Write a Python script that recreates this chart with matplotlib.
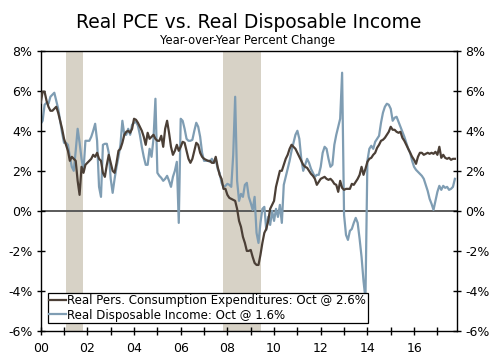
import numpy as np
import matplotlib
matplotlib.use("Agg")
import matplotlib.pyplot as plt

# monthly y/y % change, Jan 2000 - Oct 2017
pce = [
    5.4, 5.95, 5.95, 5.5, 5.2, 5.0, 5.0, 5.1, 5.2, 4.9, 4.5, 4.1,      # 2000
    3.6, 3.3, 3.0, 2.5, 2.7, 2.6, 2.5, 1.5, 0.8, 2.2, 1.9, 2.3,        # 2001
    2.4, 2.5, 2.6, 2.8, 2.7, 2.9, 2.6, 2.5, 1.9, 1.7, 2.3, 2.8,        # 2002
    2.4, 2.0, 1.9, 2.4, 3.0, 3.1, 3.4, 3.8, 3.95, 4.0, 3.9, 4.1,       # 2003
    4.6, 4.55, 4.4, 4.2, 4.0, 3.7, 3.3, 3.9, 3.6, 3.7, 3.8, 3.6,       # 2004
    3.5, 3.5, 3.75, 3.2, 4.1, 4.5, 3.9, 3.2, 2.8, 3.0, 3.3, 3.0,       # 2005
    3.2, 3.45, 3.4, 3.0, 2.6, 2.4, 2.6, 3.0, 3.4, 3.3, 2.9, 2.7,       # 2006
    2.6, 2.55, 2.5, 2.5, 2.4, 2.4, 2.7, 2.2, 1.8, 1.6, 1.1, 1.1,       # 2007
    0.8, 0.65, 0.6, 0.55, 0.5, 0.1, -0.5, -0.8, -1.3, -1.6, -2.0, -2.0,  # 2008
    -1.95, -2.3, -2.6, -2.7, -2.7, -2.2, -1.6, -1.1, -0.9, -0.5, 0.1, 0.3,  # 2009
    0.5, 1.2, 1.6, 2.0, 2.0, 2.3, 2.6, 2.8, 3.1, 3.3, 3.2, 3.1,        # 2010
    2.9, 2.7, 2.5, 2.3, 2.2, 2.15, 2.0, 1.85, 1.75, 1.6, 1.3, 1.45,    # 2011
    1.6, 1.65, 1.7, 1.6, 1.55, 1.6, 1.5, 1.35, 1.3, 0.95, 1.5, 1.15,   # 2012
    1.05, 1.1, 1.1, 1.1, 1.35, 1.3, 1.45, 1.6, 1.8, 2.2, 1.8, 2.1,     # 2013
    2.45, 2.6, 2.65, 2.8, 2.9, 3.15, 3.3, 3.5, 3.55, 3.65, 3.8, 3.95,  # 2014
    4.2, 4.05, 4.05, 3.95, 3.9, 3.95, 3.65, 3.5, 3.3, 3.1, 2.9, 2.7,   # 2015
    2.55, 2.35, 2.7, 2.9, 2.9, 2.8, 2.85, 2.9, 2.85, 2.9, 2.85, 2.95,  # 2016
    2.8, 3.2, 2.65, 2.8, 2.65, 2.6, 2.65, 2.55, 2.6, 2.6,              # 2017
]
income = [
    4.35, 4.5, 5.3, 5.4, 5.35, 5.7, 5.8, 5.9, 5.5, 5.1, 4.5, 3.9,      # 2000
    3.4, 3.4, 3.3, 2.7, 2.2, 2.0, 3.0, 4.1, 3.4, 2.6, 2.0, 3.5,        # 2001
    3.5, 3.5, 3.7, 4.0, 4.35, 3.5, 1.2, 0.7, 3.3, 3.35, 3.35, 2.9,     # 2002
    1.6, 0.9, 1.6, 2.2, 2.7, 3.3, 4.5, 3.8, 3.8, 4.1, 3.8, 4.3,        # 2003
    4.4, 4.45, 4.25, 3.8, 3.2, 2.7, 2.3, 2.3, 3.1, 2.7, 3.6, 5.6,      # 2004
    1.9, 1.75, 1.65, 1.5, 1.6, 1.75, 1.5, 1.2, 1.7, 2.0, 2.45, -0.6,   # 2005
    4.6, 4.5, 4.1, 3.6, 3.5, 3.5, 3.55, 4.0, 4.4, 4.2, 3.7, 2.9,       # 2006
    2.5, 2.5, 2.5, 2.45, 2.6, 2.4, 2.6, 2.1, 1.9, 1.4, 1.2, 1.25,      # 2007
    1.35, 1.3, 1.2, 2.8, 5.7, 1.5, 0.5, 0.85, 0.7, 1.3, 1.4, 0.7,      # 2008
    0.4, 0.05, 0.7, -1.1, -1.6, -0.6, 0.1, 0.2, -0.95, -0.3, -0.7, 0.0,  # 2009
    -0.5, 0.1, -0.3, 0.3, -0.6, 1.3, 1.7, 2.1, 2.5, 3.0, 3.4, 3.8,     # 2010
    4.0, 3.6, 2.6, 2.0, 2.3, 2.6, 2.4, 2.1, 1.9, 1.7, 1.8, 1.8,        # 2011
    2.2, 2.9, 3.2, 3.1, 2.6, 2.2, 2.3, 3.3, 3.8, 4.2, 4.6, 6.9,        # 2012
    -0.2, -1.2, -1.45, -1.0, -0.9, -0.6, -0.35, -0.6, -1.4, -2.3, -3.5, -4.4,  # 2013
    2.5, 3.1, 3.25, 3.1, 3.45, 3.6, 3.75, 4.4, 4.9, 5.2, 5.35, 5.3,    # 2014
    5.1, 4.5, 4.65, 4.7, 4.45, 4.2, 3.95, 3.7, 3.4, 3.1, 2.9, 2.5,     # 2015
    2.2, 2.05, 1.95, 1.85, 1.75, 1.6, 1.3, 1.0, 0.6, 0.35, 0.05, 0.5,  # 2016
    0.95, 1.25, 1.05, 1.25, 1.15, 1.2, 1.05, 1.1, 1.2, 1.6,            # 2017
]
recession_start = [2001.1, 2007.83]
recession_end = [2001.83, 2009.43]

pce_label = "Real Pers. Consumption Expenditures: Oct @ 2.6%"
income_label = "Real Disposable Income: Oct @ 1.6%"

brown = "#4b3f36"
blue = "#7f9db3"
shade = "#d7d2c6"

x = 2000 + np.arange(len(pce)) / 12.0

fig = plt.figure(figsize=(5, 3.56), dpi=100)
ax = fig.add_axes([0.0814, 0.0702, 0.8326, 0.7874])

for s, e in zip(recession_start, recession_end):
    ax.axvspan(s, e, color=shade, lw=0, zorder=0)
ax.axhline(0, color="#5a5a5a", lw=1.4, zorder=1)

ax.plot(x, pce, color=brown, lw=1.6, label=pce_label, zorder=3)
ax.plot(x, income, color=blue, lw=1.6, label=income_label, zorder=2)

ax.set_xlim(2000, 2017.84)
ax.set_ylim(-6, 8)
ax.set_xticks(np.arange(2000, 2018))
ax.set_xticklabels(["%02d" % (y % 100) if y % 2 == 0 else "" for y in range(2000, 2018)])
ax.set_yticks(np.arange(-6, 9, 2))
ax.set_yticklabels(["%d%%" % v for v in range(-6, 9, 2)])
ax.tick_params(axis="both", direction="inout", length=6, width=1, labelsize=9,
               colors="black", right=True, labelright=True)
ax.tick_params(axis="y", pad=3)
ax.tick_params(axis="x", pad=5)
for sp in ax.spines.values():
    sp.set_color("black")
    sp.set_linewidth(1)

leg = ax.legend(loc="lower left", bbox_to_anchor=(0.0168, 0.0285), borderaxespad=0,
                fontsize=8.5, frameon=True, fancybox=False, handlelength=1.4,
                handletextpad=0.15, labelspacing=0.1, borderpad=0.12)
leg.get_frame().set_edgecolor("black")
leg.get_frame().set_linewidth(0.9)
leg.get_frame().set_alpha(1)

fig.text(0.497, 0.938, "Real PCE vs. Real Disposable Income", ha="center", va="center",
         fontsize=13.5, color="black")
fig.text(0.496, 0.886, "Year-over-Year Percent Change", ha="center", va="center",
         fontsize=8.3, color="black")

fig.savefig("out.png", dpi=100)
